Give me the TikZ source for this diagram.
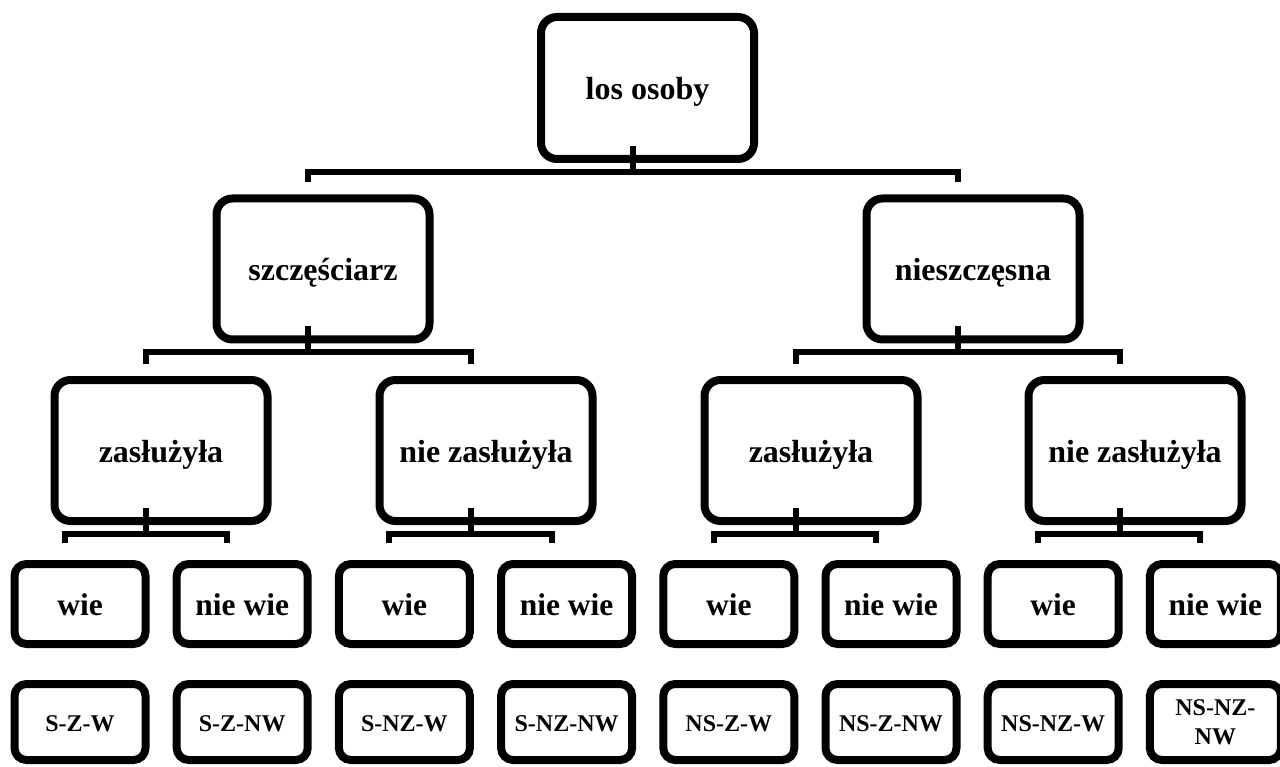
\documentclass[tikz,border=0pt]{standalone}
\usepackage{fontspec}
\setmainfont{Liberation Serif}
\usetikzlibrary{calc}
\begin{document}
\begin{tikzpicture}[x=1pt,y=-1pt,
  bigbox/.style={draw=black, line width=8pt, rounded corners=16pt, inner sep=0pt,
    minimum width=213pt, minimum height=141pt, font=\bfseries\fontsize{32}{36}\selectfont,
    text height=24pt, text depth=0pt, fill=white},
  smallbox/.style={draw=black, line width=8pt, rounded corners=12pt, inner sep=0pt,
    minimum width=131pt, minimum height=80pt, font=\bfseries\fontsize{31.5}{36}\selectfont,
    text height=22pt, text depth=0pt, align=center, fill=white},
  resbox/.style={smallbox, minimum height=76pt, font=\bfseries\fontsize{24}{29}\selectfont,
    text height=18pt},
  conn/.style={draw=black, line width=6pt}]
\useasboundingbox (0,0) rectangle (1280,767);
\fill[white] (0,0) rectangle (1280,767);

% level 1
\node[bigbox, minimum height=142pt] (root) at (647.5,88) {los osoby};
% level 2
\node[bigbox] (s) at (323,269) {szczęściarz};
\node[bigbox] (n) at (973,269) {nieszczęsna};
% level 3
\node[bigbox] (sz) at (161,450.5) {zasłużyła};
\node[bigbox] (snz) at (486,450.5) {nie zasłużyła};
\node[bigbox] (nz) at (811,450.5) {zasłużyła};
\node[bigbox] (nnz) at (1135,450.5) {nie zasłużyła};
% level 4
\node[smallbox] (w1) at (80,604) {wie};
\node[smallbox] (nw1) at (242.2,604) {nie wie};
\node[smallbox] (w2) at (404.4,604) {wie};
\node[smallbox] (nw2) at (566.6,604) {nie wie};
\node[smallbox] (w3) at (728.8,604) {wie};
\node[smallbox] (nw3) at (891,604) {nie wie};
\node[smallbox] (w4) at (1053.2,604) {wie};
\node[smallbox] (nw4) at (1215.4,604) {nie wie};
% level 5
\node[resbox] (r1) at (80,722) {S-Z-W};
\node[resbox] (r2) at (242.2,722) {S-Z-NW};
\node[resbox] (r3) at (404.4,722) {S-NZ-W};
\node[resbox] (r4) at (566.6,722) {S-NZ-NW};
\node[resbox] (r5) at (728.8,722) {NS-Z-W};
\node[resbox] (r6) at (891,722) {NS-Z-NW};
\node[resbox] (r7) at (1053.2,722) {NS-NZ-W};
\node[resbox, text height=44pt] (r8) at (1215.4,722) {NS-NZ-\\NW};

% connectors
\foreach \p/\a/\b/\tk in {root/s/n/12, s/sz/snz/12, n/nz/nnz/12, sz/w1/nw1/17, snz/w2/nw2/17, nz/w3/nw3/17, nnz/w4/nw4/17} {
  \coordinate (\p-j) at ($(\p.south)+(-15,9)$);
  \draw[conn] ($(\p.south)+(-15,-17)$) -- (\p-j);
  \draw[conn] (\p-j) -| ($(\a.north)+(-15,-\tk)$);
  \draw[conn] (\p-j) -| ($(\b.north)+(-15,-\tk)$);
}
\end{tikzpicture}
\end{document}
